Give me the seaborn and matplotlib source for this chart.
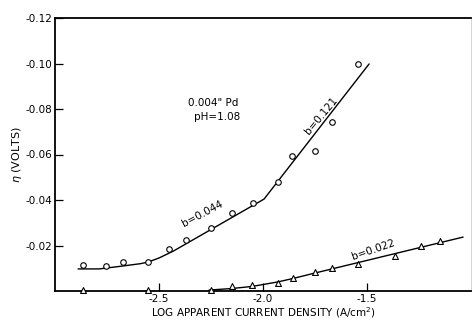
import matplotlib
matplotlib.use("Agg")
import matplotlib.pyplot as plt
import seaborn as sns
import pandas as pd

# Measured overpotential vs. log apparent current density
circle_logi = [-2.865, -2.755, -2.673, -2.553, -2.452, -2.370, -2.250,
               -2.149, -2.048, -1.928, -1.861, -1.750, -1.668, -1.543]
circle_eta = [-0.0114, -0.0110, -0.0127, -0.0127, -0.0185, -0.0224, -0.0277,
              -0.0343, -0.0387, -0.0479, -0.0594, -0.0615, -0.0743, -0.0998]

triangle_logi = [-2.865, -2.553, -2.250, -2.149, -2.053, -1.928, -1.856,
                 -1.750, -1.668, -1.543, -1.365, -1.240, -1.149]
triangle_eta = [-0.0005, -0.0005, -0.0005, -0.0022, -0.0026, -0.0035, -0.0057,
                -0.0084, -0.0101, -0.0119, -0.0154, -0.0198, -0.0220]

# Hand-fitted Tafel curves (vertices)
fit_upper_logi = [-2.889, -2.788, -2.673, -2.590, -2.553, -2.500, -2.430, -1.995, -1.490]
fit_upper_eta = [-0.0097, -0.0097, -0.0110, -0.0120, -0.0127, -0.0145, -0.0176, -0.0404, -0.0998]

fit_lower_logi = [-2.260, -2.149, -2.053, -1.928, -1.856, -1.750, -1.038]
fit_lower_eta = [-0.0004, -0.0011, -0.0020, -0.0040, -0.0055, -0.0079, -0.0237]

y_ticks = [-0.12, -0.10, -0.08, -0.06, -0.04, -0.02]
y_tick_labels = ["-0.12", "-0.10", "-0.08", "-0.06", "-0.04", "-0.02"]
x_ticks = [-2.5, -2.0, -1.5]
x_tick_labels = ["-2.5", "-2.0", "-1.5"]

sns.set_theme(style="ticks")
plt.rcParams["font.family"] = ["DejaVu Sans"]
plt.rcParams["text.color"] = "black"
plt.rcParams["axes.labelcolor"] = "black"

fig = plt.figure(figsize=(4.73, 3.21), dpi=100)
ax = fig.add_axes([55 / 473, 1 - 291 / 321, 416 / 473, 273 / 321])

circles = pd.DataFrame({"logi": circle_logi, "eta": circle_eta})
triangles = pd.DataFrame({"logi": triangle_logi, "eta": triangle_eta})
fit_up = pd.DataFrame({"logi": fit_upper_logi, "eta": fit_upper_eta})
fit_lo = pd.DataFrame({"logi": fit_lower_logi, "eta": fit_lower_eta})

sns.lineplot(data=fit_up, x="logi", y="eta", sort=False, color="black", lw=1.0, ax=ax)
sns.lineplot(data=fit_lo, x="logi", y="eta", sort=False, color="black", lw=1.0, ax=ax)
sns.scatterplot(data=circles, x="logi", y="eta", marker="o", s=16,
                facecolor="white", edgecolor="black", linewidth=0.8, ax=ax,
                zorder=3, clip_on=False)
sns.scatterplot(data=triangles, x="logi", y="eta", marker="^", s=18,
                facecolor="white", edgecolor="black", linewidth=0.8, ax=ax,
                zorder=3, clip_on=False)

ax.set_xlim(-3.0, -1.0)
ax.set_ylim(0.0, -0.12)

ax.set_yticks(y_ticks)
ax.set_yticklabels(y_tick_labels)
ax.set_xticks(x_ticks)
ax.set_xticklabels(x_tick_labels)
ax.tick_params(axis="both", direction="in", length=6, width=0.9, labelsize=7.5,
               colors="black", pad=2)

for side in ["left", "bottom", "top"]:
    ax.spines[side].set_color("black")
    ax.spines[side].set_linewidth(1.3)
ax.spines["right"].set_color("#cccccc")
ax.spines["right"].set_linewidth(0.6)

ax.set_xlabel("LOG APPARENT CURRENT DENSITY (A/cm$^2$)", fontsize=7.5, labelpad=1)
ax.set_ylabel("$\\eta$ (VOLTS)", fontsize=8, labelpad=1)

ax.text(-2.24, -0.0825, "0.004\" Pd", fontsize=7.5, ha="center", va="center")
ax.text(-2.22, -0.0765, "pH=1.08", fontsize=7.5, ha="center", va="center")
ax.text(-2.29, -0.0338, "b=0.044", fontsize=7.5, ha="center", va="center", rotation=28)
ax.text(-1.72, -0.0770, "b=0.121", fontsize=7.5, ha="center", va="center", rotation=50)
ax.text(-1.47, -0.0183, "b=0.022", fontsize=7.5, ha="center", va="center", rotation=19)

fig.savefig("out.png", dpi=100)
